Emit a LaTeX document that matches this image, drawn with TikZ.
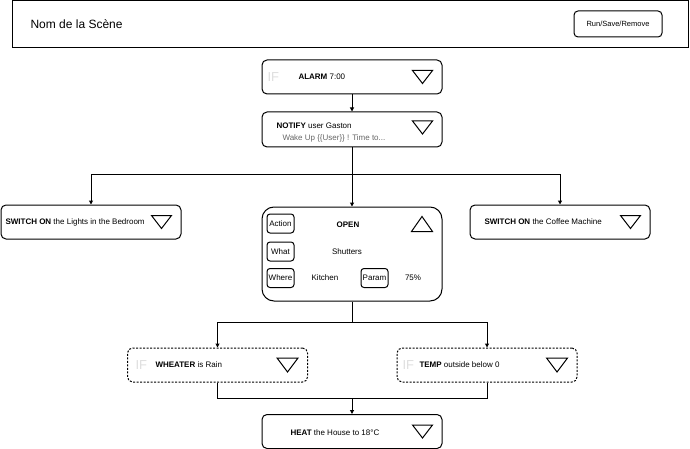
\documentclass[tikz,border=0pt]{standalone}
\usepackage{fontspec}
\setmainfont{Liberation Sans}
\usetikzlibrary{arrows.meta}

\begin{document}
\begin{tikzpicture}[x=1pt,y=-1pt,>={Triangle[length=4pt,width=4pt]},
    line width=1pt,
    card/.style={draw,rounded corners=5pt,minimum width=180pt,minimum height=34pt},
    ifcard/.style={card,dash pattern=on 2pt off 1.5pt},
    tag/.style={draw,rounded corners=3pt,minimum width=27pt,minimum height=19pt,inner sep=0pt,font=\fontsize{8}{9}\selectfont},
    txt/.style={anchor=west,inner sep=0pt,font=\fontsize{8}{9}\selectfont},
    iflbl/.style={anchor=west,inner sep=0pt,text=black!13,font=\fontsize{13}{14}\selectfont}]
  \useasboundingbox (0,0) rectangle (690,449);
  % header
  \node[draw,minimum width=676pt,minimum height=47pt] (scene) at (350,24.5) {};
  \node[txt,font=\fontsize{12}{14}\selectfont] (scenename) at (30,24.5) {Nom de la Scène};
  \node[draw,rounded corners=4pt,minimum width=88pt,minimum height=26pt,inner sep=0pt,font=\fontsize{7.5}{9}\selectfont] (actions) at (618,24) {Run/Save/Remove};
  % cards
  \node[card] (alarm) at (352,77) {};
  \node[card,minimum height=35pt] (notify) at (352,129.5) {};
  \node[card] (lights) at (91,222) {};
  \node[card] (coffee) at (560,222) {};
  \node[card,rounded corners=12pt,minimum height=94pt] (open) at (352,254) {};
  \node[ifcard] (wheater) at (217.5,365) {};
  \node[ifcard] (temp) at (487,365) {};
  \node[card] (heat) at (352,431.5) {};
  % connectors
  \draw[->] (alarm) -- (notify);
  \coordinate (fork) at (352,175);
  \draw (notify) -- (fork);
  \draw[->] (fork) -| (lights);
  \draw[->] (fork) -| (coffee);
  \draw[->] (fork) -- (open);
  \coordinate (fork2) at (352,322);
  \draw (open) -- (fork2);
  \draw[->] (fork2) -| (wheater);
  \draw[->] (fork2) -| (temp);
  \coordinate (merge) at (352,398);
  \draw (wheater) |- (merge);
  \draw (temp) |- (merge);
  \draw[->] (merge) -- (heat);
  % texts
  \node[iflbl] (alarmif) at (267,77) {IF};
  \node[txt] (alarmtxt) at (298,77) {\textbf{ALARM} 7:00};
  \node[txt] (notifytxt) at (276,126) {\textbf{NOTIFY} user Gaston};
  \node[txt,text=black!60] (notifymsg) at (282,138) {Wake Up \{\{User\}\} ! Time to...};
  \node[txt] (lightstxt) at (5,222) {\textbf{SWITCH ON} the Lights in the Bedroom};
  \node[txt] (coffeetxt) at (484,222) {\textbf{SWITCH ON} the Coffee Machine};
  \node[tag] (action) at (280.5,223.5) {Action};
  \node[tag] (what) at (280.5,251.5) {What};
  \node[tag] (where) at (280.5,278) {Where};
  \node[tag] (param) at (374.5,278) {Param};
  \node[inner sep=0pt,font=\bfseries\fontsize{8}{9}\selectfont] (opentxt) at (348,225) {OPEN};
  \node[inner sep=0pt,font=\fontsize{8}{9}\selectfont] (whattxt) at (347,252) {Shutters};
  \node[inner sep=0pt,font=\fontsize{8}{9}\selectfont] (wheretxt) at (325,278) {Kitchen};
  \node[inner sep=0pt,font=\fontsize{8}{9}\selectfont] (paramtxt) at (413,278) {75\%};
  \node[iflbl] (wheaterif) at (135,365) {IF};
  \node[txt] (wheatertxt) at (155,365) {\textbf{WHEATER} is Rain};
  \node[iflbl] (tempif) at (402,365) {IF};
  \node[txt] (temptxt) at (419,365) {\textbf{TEMP} outside below 0};
  \node[txt] (heattxt) at (290,433) {\textbf{HEAT} the House to 18°C};
  % triangles
  \draw ([shift={(-30,-6.5)}]alarm.east) -- ++(20,0) -- ++(-10,13) -- cycle;
  \draw ([shift={(-30,-8.5)}]notify.east) -- ++(20,0) -- ++(-10,13) -- cycle;
  \draw ([shift={(-30,-6.5)}]lights.east) -- ++(20,0) -- ++(-10,13) -- cycle;
  \draw ([shift={(-30,-6.5)}]coffee.east) -- ++(20,0) -- ++(-10,13) -- cycle;
  \draw ([shift={(-31,25)}]open.north east) -- ++(21,0) -- ++(-10.5,-15) -- cycle;
  \draw ([shift={(-31,-7)}]wheater.east) -- ++(21,0) -- ++(-10.5,14) -- cycle;
  \draw ([shift={(-31,-7)}]temp.east) -- ++(21,0) -- ++(-10.5,14) -- cycle;
  \draw ([shift={(-30,-6.5)}]heat.east) -- ++(20,0) -- ++(-10,13) -- cycle;
\end{tikzpicture}
\end{document}
